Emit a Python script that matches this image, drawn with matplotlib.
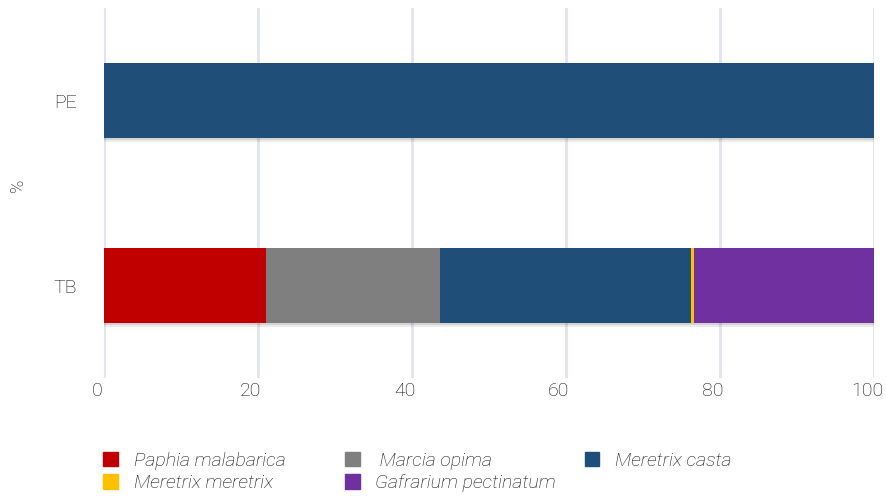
import matplotlib
matplotlib.use("Agg")
import matplotlib.pyplot as plt
import matplotlib.patches as mpatches
import matplotlib.patheffects as pe
import matplotlib.transforms as mtrans

plt.rcParams['font.family'] = ['Roboto', 'DejaVu Sans']
plt.rcParams['font.weight'] = 'light'

sites = ["TB", "PE"]
species = ["Paphia malabarica", "Marcia opima", "Meretrix casta",
           "Meretrix meretrix", "Gafrarium pectinatum"]
paphia = [21.1, 0]
marcia = [22.5, 0]
casta = [32.6, 100]
meretrix = [0.4, 0]
gafrarium = [23.4, 0]
colors = ["#c00000", "#7f7f7f", "#1f4e79", "#ffc000", "#7030a0"]
txt = "#0a0a0a"

fig = plt.figure(figsize=(8.86, 4.97), dpi=100)
ax = fig.add_axes([0.117, 0.239, 0.8695, 0.745])

shadow = [pe.SimplePatchShadow(offset=(0, -3), shadow_rgbFace="#000000", alpha=0.08),
          pe.SimplePatchShadow(offset=(0, -1.5), shadow_rgbFace="#000000", alpha=0.1),
          pe.Normal()]
left = [0, 0]
handles = []
for name, vals, c in zip(species, [paphia, marcia, casta, meretrix, gafrarium], colors):
    bars = ax.barh(range(len(sites)), vals, left=left, height=0.405, color=c,
                   zorder=3, label=name)
    for b in bars:
        b.set_path_effects(shadow)
    left = [l + v for l, v in zip(left, vals)]
    handles.append(mpatches.Patch(color=c, label=name))

ax.set_xlim(0, 100)
ax.set_ylim(-0.5, 1.5)
ax.set_yticks(range(len(sites)))
ax.set_yticklabels(sites)
ax.set_xticks([0, 20, 40, 60, 80, 100])
ax.grid(axis='x', color="#e1e4ee", linewidth=2, zorder=0)
for s in ax.spines.values():
    s.set_visible(False)
ax.tick_params(length=0, labelsize=14, colors=txt)
ax.tick_params(axis='x', pad=3)
ax.tick_params(axis='y', pad=19)
shift = mtrans.ScaledTranslation(-7 / 100, 0, fig.dpi_scale_trans)
for lab in ax.get_xticklabels():
    lab.set_transform(lab.get_transform() + shift)
fig.text(18 / 886, 1 - 185 / 497, "%", rotation=90, fontsize=13, color=txt,
         ha='center', va='center')

# legend: three columns placed by hand
cols = [([0, 3], 0.108), ([1, 4], 0.381), ([2], 0.651)]
for idx, x in cols:
    hs = [handles[i] for i in idx]
    labs = [(" " + species[i]) if i == 1 else species[i] for i in idx]
    leg = fig.legend(hs, labs, loc='upper left', bbox_to_anchor=(x, 0.106),
                     frameon=False, handlelength=0.75, handleheight=0.75,
                     handletextpad=0.8, labelspacing=0.22, borderaxespad=0,
                     prop={'family': ['Roboto', 'DejaVu Sans'], 'style': 'italic',
                           'weight': 'light', 'size': 14})
    for t in leg.get_texts():
        t.set_color(txt)

fig.savefig("out.png", dpi=100)
